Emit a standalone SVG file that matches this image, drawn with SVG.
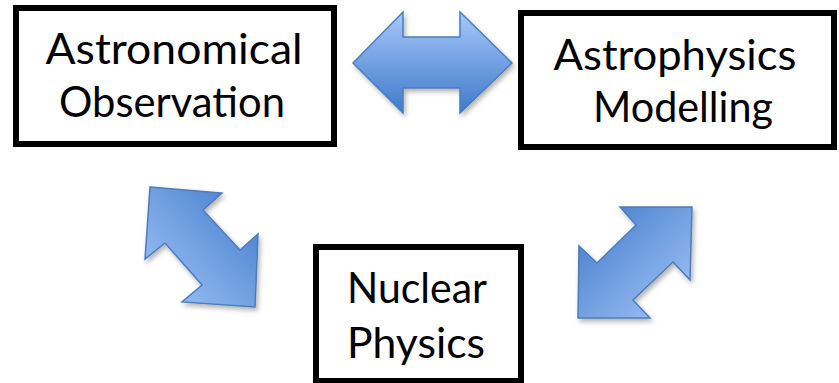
<svg xmlns="http://www.w3.org/2000/svg" width="839" height="383" viewBox="0 0 839 383">
  <style>
    .box { fill: #ffffff; stroke: #000000; stroke-width: 6; }
    .lbl { font-family: Lato, "Open Sans", "Liberation Sans", sans-serif; font-size: 43px; fill: #000000; text-anchor: middle; }
    .arr { stroke: #4a7ebb; stroke-width: 1.5; stroke-linejoin: miter; filter: url(#shadow); }
  </style>
  <defs>
    <linearGradient id="gH" x1="0" y1="0" x2="0" y2="1">
      <stop offset="0" stop-color="#a6c8f9"/>
      <stop offset="1" stop-color="#4079cb"/>
    </linearGradient>
    <linearGradient id="gL" x1="0" y1="1" x2="1" y2="0">
      <stop offset="0" stop-color="#a6c8f9"/>
      <stop offset="1" stop-color="#3f78c9"/>
    </linearGradient>
    <linearGradient id="gR" x1="0" y1="0" x2="1" y2="1">
      <stop offset="0" stop-color="#3f78c9"/>
      <stop offset="1" stop-color="#a6c8f9"/>
    </linearGradient>
    <filter id="shadow" x="-20%" y="-20%" width="140%" height="140%">
      <feDropShadow dx="2" dy="3" stdDeviation="2.5" flood-color="#000000" flood-opacity="0.3"/>
    </filter>
  </defs>

  <g id="connectors">
    <polygon id="arrow-obs-model" class="arr" fill="url(#gH)" points="353,63 403,12 403,37 460,37 460,12 512,63 460,113 460,88 403,88 403,113"/>
    <polygon id="arrow-obs-nuclear" class="arr" fill="url(#gL)" points="150,187 222,193 203,210 240,250 258,234 255,307 182,302 202,285 165,243 145,259"/>
    <polygon id="arrow-model-nuclear" class="arr" fill="url(#gR)" points="620,207 692,207 690,280 673,262 633,300 650,318 578,318 579,246 597,263 636,225"/>
  </g>

  <g id="node-observation">
    <rect class="box" x="16" y="8" width="318" height="136"/>
    <text class="lbl" x="174" y="64" textLength="257" lengthAdjust="spacingAndGlyphs">Astronomical</text>
    <text class="lbl" x="172" y="117" textLength="226" lengthAdjust="spacingAndGlyphs">Observation</text>
  </g>

  <g id="node-modelling">
    <rect class="box" x="521" y="13" width="313" height="134"/>
    <text class="lbl" x="675" y="70" textLength="243" lengthAdjust="spacingAndGlyphs">Astrophysics</text>
    <text class="lbl" x="683" y="122" textLength="180" lengthAdjust="spacingAndGlyphs">Modelling</text>
  </g>

  <g id="node-nuclear">
    <rect class="box" x="316" y="247" width="205" height="134"/>
    <text class="lbl" x="417" y="303" textLength="140" lengthAdjust="spacingAndGlyphs">Nuclear</text>
    <text class="lbl" x="416" y="358" textLength="138" lengthAdjust="spacingAndGlyphs">Physics</text>
  </g>
</svg>
